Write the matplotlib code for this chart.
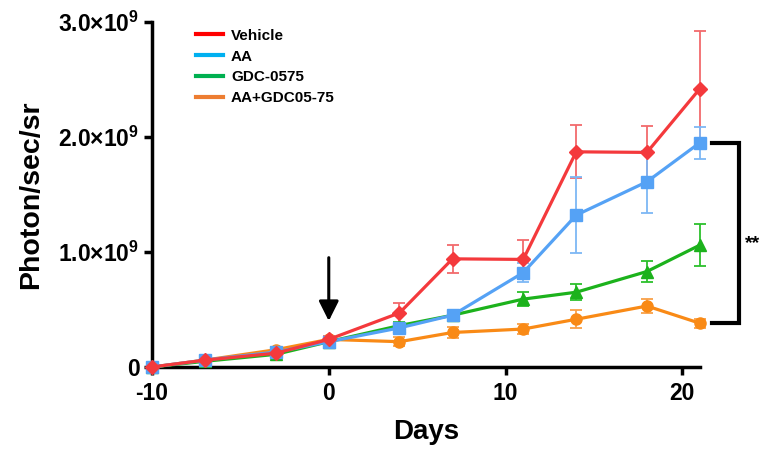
import matplotlib
matplotlib.use('Agg')
import matplotlib.pyplot as plt

plt.rcParams['font.family'] = ['Liberation Sans', 'DejaVu Sans']
plt.rcParams['font.weight'] = 'bold'
plt.rcParams['mathtext.fontset'] = 'custom'
plt.rcParams['mathtext.rm'] = 'Liberation Sans:bold'
plt.rcParams['mathtext.default'] = 'rm'
plt.rcParams['axes.unicode_minus'] = False

days = [-10, -7, -3, 0, 4, 7, 11, 14, 18, 21]

# values in units of 1e9 photon/sec/sr
vehicle = [0.0, 0.06, 0.12, 0.24, 0.47, 0.94, 0.935, 1.87, 1.865, 2.42]
vehicle_err = [0.01, 0.02, 0.03, 0.03, 0.09, 0.12, 0.17, 0.23, 0.23, 0.50]
aa = [0.0, 0.06, 0.13, 0.22, 0.34, 0.45, 0.82, 1.32, 1.61, 1.95]
aa_err = [0.01, 0.02, 0.03, 0.02, 0.03, 0.03, 0.08, 0.33, 0.27, 0.14]
gdc = [0.0, 0.05, 0.11, 0.22, 0.36, 0.45, 0.59, 0.65, 0.83, 1.06]
gdc_err = [0.01, 0.01, 0.02, 0.02, 0.03, 0.03, 0.06, 0.07, 0.09, 0.18]
combo = [0.0, 0.06, 0.15, 0.24, 0.22, 0.30, 0.33, 0.415, 0.53, 0.38]
combo_err = [0.01, 0.01, 0.02, 0.02, 0.04, 0.05, 0.04, 0.08, 0.06, 0.04]

names = ['Vehicle', 'AA', 'GDC-0575', 'AA+GDC05-75']
line_colors = ['#f4393c', '#55a2f5', '#1cb21c', '#f98a16']
err_colors = ['#f26a6c', '#7db7f5', '#2cc02c', '#f9a048']
legend_colors = ['#ff0000', '#00b0f0', '#00b050', '#ed7d31']
markers = ['D', 's', '^', 'o']
msizes = [7, 8, 8, 8]

yticks = [0, 1, 2, 3]
ytick_labels = ['0', '1.0×10$^{9}$', '2.0×10$^{9}$', '3.0×10$^{9}$']

fig = plt.figure(figsize=(7.65, 4.54), dpi=100)
ax = fig.add_axes([0.1987, 0.1916, 0.7163, 0.7604])

series = [vehicle, aa, gdc, combo]
errs = [vehicle_err, aa_err, gdc_err, combo_err]
# draw orange first, red on top
for i in [3, 2, 1, 0]:
    ax.errorbar(days, series[i], yerr=errs[i], fmt='none', ecolor=err_colors[i],
                elinewidth=1.3, capsize=4, capthick=1.3, zorder=2 + i * 0.1, clip_on=False)
    ax.plot(days, series[i], color=line_colors[i], lw=2.3, marker=markers[i],
            ms=msizes[i], zorder=3 + (3 - i), clip_on=False)

# legend (lines only)
handles = [plt.Line2D([], [], color=c, lw=3) for c in legend_colors]
leg = ax.legend(handles, names, loc='upper left', bbox_to_anchor=(0.055, 1.02),
                frameon=False, fontsize=11, handlelength=1.8, labelspacing=0.45,
                handletextpad=0.5)

# treatment arrow at day 0
ax.annotate('', xy=(0, 0.40), xytext=(0, 0.95),
            arrowprops=dict(arrowstyle='-|>', color='black', lw=2.2,
                            mutation_scale=30, shrinkA=0, shrinkB=0))

# significance bracket between AA and AA+GDC at day 21
bx0, bx1 = 21.7, 23.2
ax.plot([bx0, bx1, bx1, bx0], [aa[-1], aa[-1], combo[-1], combo[-1]],
        color='black', lw=3, clip_on=False, solid_joinstyle='miter')
ax.text(bx1 + 0.35, 1.07, '**', fontsize=14,
        va='center', ha='left', fontweight='bold')

ax.set_xlim(-10, 21)
ax.set_ylim(0, 3)
ax.set_xticks([-10, 0, 10, 20])
ax.set_yticks(yticks)
ax.set_yticklabels(ytick_labels)
ax.tick_params(axis='both', labelsize=16.5, width=2.5, length=6, direction='out')
ax.tick_params(axis='x', pad=5)
ax.tick_params(axis='y', pad=3)
for lab in ax.get_xticklabels() + ax.get_yticklabels():
    lab.set_fontweight('bold')
for s in ['top', 'right']:
    ax.spines[s].set_visible(False)
for s in ['left', 'bottom']:
    ax.spines[s].set_linewidth(2.5)

ax.set_xlabel('Days', fontsize=20, fontweight='bold', labelpad=10)
ax.set_ylabel('Photon/sec/sr', fontsize=20.5, fontweight='bold', labelpad=10)

fig.savefig('out.png', dpi=100)
